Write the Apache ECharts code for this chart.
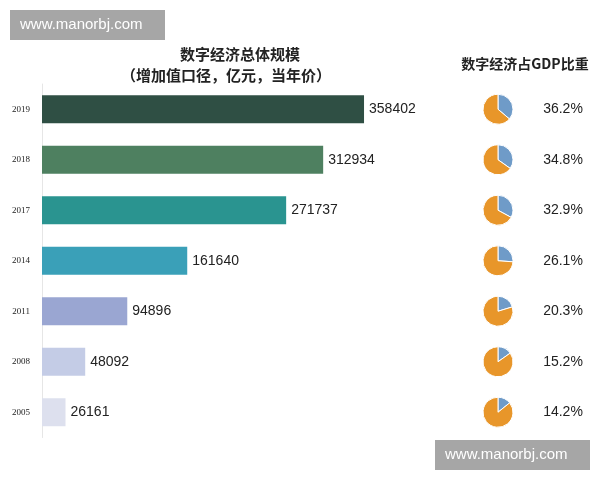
<!DOCTYPE html>
<html><head><meta charset="utf-8">
<script src="https://cdn.jsdelivr.net/npm/echarts@6/dist/echarts.min.js"></script>
<style>html,body{margin:0;padding:0;background:#fff}#c{width:600px;height:480px}</style>
</head><body><div id="c"></div>
<script>
var years = ['2019','2018','2017','2014','2011','2008','2005'];
var values = [358402, 312934, 271737, 161640, 94896, 48092, 26161];
var shares = [36.2, 34.8, 32.9, 26.1, 20.3, 15.2, 14.2];
var barColors = ['#2f4f44','#4e8060','#2a9490','#3aa0b8','#9aa6d2','#c4cce6','#dde0ee'];

var top0 = 84, rowH = 50.5;
var series = [{
  type:'bar', barWidth:28,
  data: values.map(function(v,i){return {value:v,itemStyle:{color:barColors[i]}};}),
  label:{show:true,position:'right',distance:5,color:'#222',fontSize:14,fontFamily:'Liberation Sans'}
}];
shares.forEach(function(s,i){
  var cy = top0 + rowH*(i+0.5);
  series.push({
    type:'pie', radius:15, center:[498, cy], startAngle:90, clockwise:true,
    silent:true, label:{show:false}, labelLine:{show:false},
    itemStyle:{borderColor:'#fff',borderWidth:1},
    data:[{value:s,itemStyle:{color:'#6f9bc8'}},{value:100-s,itemStyle:{color:'#e8962a'}}]
  });
});
var graphics = [
  {type:'rect',shape:{x:10,y:10,width:155,height:30},style:{fill:'#a6a6a6'}},
  {type:'text',x:20,y:25,style:{text:'www.manorbj.com',fill:'#fff',font:'15px Liberation Sans',verticalAlign:'middle'}},
  {type:'rect',shape:{x:435,y:440,width:155,height:30},style:{fill:'#a6a6a6'}},
  {type:'text',x:445,y:455,style:{text:'www.manorbj.com',fill:'#fff',font:'15px Liberation Sans',verticalAlign:'middle'}},
  {type:'text',x:240,y:54,style:{text:'数字经济总体规模',fill:'#222',font:'bold 15px "Noto Sans CJK SC"',align:'center',verticalAlign:'middle'}},
  {type:'text',x:226,y:75,style:{text:'（增加值口径，亿元，当年价）',fill:'#222',font:'bold 15px "Noto Sans CJK SC"',align:'center',verticalAlign:'middle'}},
  {type:'text',x:525,y:64,style:{text:'数字经济占GDP比重',fill:'#222',font:'bold 14px "Noto Sans CJK SC"',align:'center',verticalAlign:'middle'}}
];
shares.forEach(function(s,i){
  graphics.push({type:'text',x:563,y:top0+rowH*(i+0.5),style:{text:s.toFixed(1)+'%',fill:'#222',font:'14px Liberation Sans',align:'center',verticalAlign:'middle'}});
});
var chart = echarts.init(document.getElementById('c'));
chart.setOption({
  animation:false,
  grid:{left:42,top:top0,width:359.4,height:rowH*7},
  xAxis:{type:'value',min:0,max:400000,show:false},
  yAxis:{type:'category',inverse:true,data:years,
    axisLine:{show:true,lineStyle:{color:'#e6e6e6'}},axisTick:{show:false},
    axisLabel:{color:'#222',fontSize:9,margin:12,fontFamily:'Liberation Serif'}},
  series:series,
  graphic:graphics
});
</script></body></html>
